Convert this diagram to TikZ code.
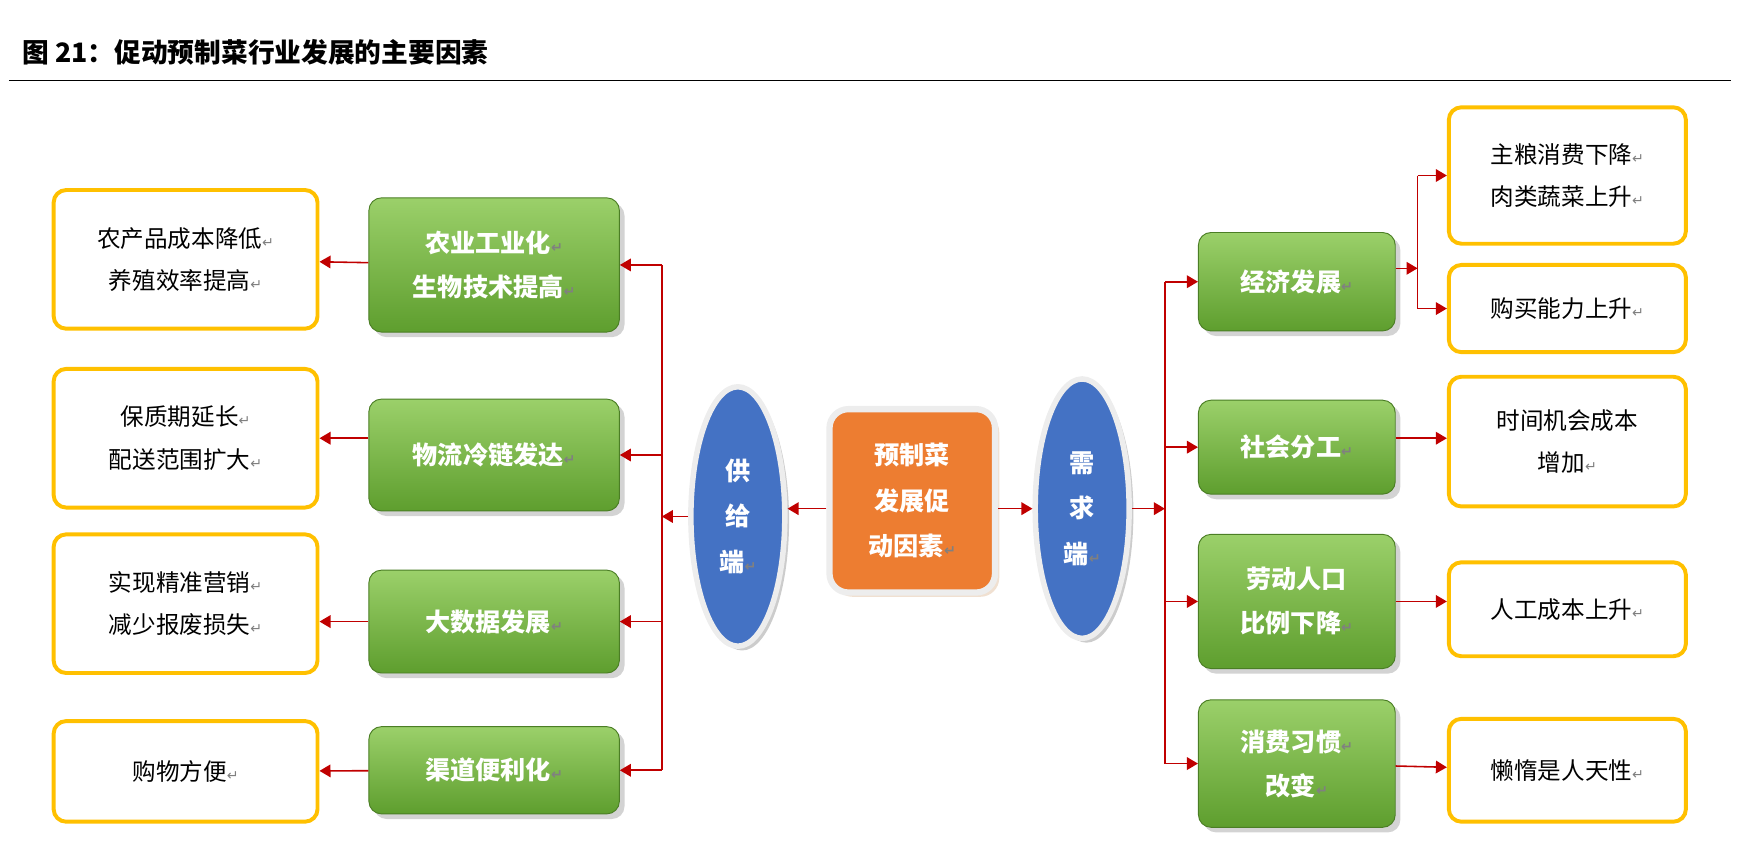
\documentclass[tikz,border=0pt]{standalone}
\usepackage{fontspec}
\setmainfont{Noto Sans CJK SC}
\newfontfamily\retfont{DejaVu Sans}
\usetikzlibrary{shadows,arrows.meta,shapes.geometric,positioning}
\definecolor{boxorange}{HTML}{FFC000}
\definecolor{centerorange}{HTML}{ED7D31}
\definecolor{sideblue}{HTML}{4472C4}
\definecolor{greentop}{HTML}{9BD06A}
\definecolor{greenbot}{HTML}{5E9E2E}
\definecolor{linkred}{HTML}{C00000}
\newcommand{\ret}{{\retfont\color{gray}\small ↵}}
\begin{document}
\begin{tikzpicture}[
        x=0.025cm, y=-0.025cm,
        factor/.style={draw=boxorange, line width=2.5pt, rounded corners=8pt, fill=white, align=center, font=\fontsize{15}{27}\selectfont},
        driver/.style={draw=greenbot!80!black, line width=0.6pt, rounded corners=8pt, top color=greentop, bottom color=greenbot, text=white, align=center, font=\fontsize{16}{28}\selectfont\bfseries, drop shadow={shadow xshift=0.6ex, shadow yshift=-0.6ex, opacity=0.35}},
        side/.style={ellipse, draw=white!93!black, line width=3.5pt, fill=sideblue, text=white, align=center, minimum width=2.1cm, minimum height=5.8cm, inner sep=0pt, font=\fontsize{16}{29}\selectfont\bfseries, drop shadow={shadow xshift=0.5ex, shadow yshift=-0.5ex, opacity=0.4}},
        link/.style={draw=linkred, line width=1pt, -{Triangle[length=7pt,width=8pt]}},
        plain/.style={draw=linkred, line width=1pt}
    ]
        \useasboundingbox (0,0) rectangle (1560,760);

        % Title
        \node[anchor=west, font=\fontsize{17}{20}\selectfont\bfseries] (title) at (15,47) {图 21：促动预制菜行业发展的主要因素};
        \draw[line width=0.8pt] (8,72) -- (1548,72);

        % Centre and the two sides
        \node[draw=white!93!black, line width=4pt, rounded corners=12pt, fill=centerorange, text=white, minimum width=3.7cm, minimum height=4.1cm, align=center, font=\fontsize{16}{29}\selectfont\bfseries, drop shadow={shadow xshift=0.5ex, shadow yshift=-0.5ex, opacity=0.4, fill=brown!60}] (core) at (816,448) {预制菜\\发展促\\动因素\ret};
        \node[side] (supply) at (660,462) {供\\给\\端\ret};
        \node[side] (demand) at (968,455) {需\\求\\端\ret};

        % Supply drivers
        \node[driver, minimum width=5.6cm, minimum height=3.0cm] (agri) at (442,237) {农业工业化\ret\\生物技术提高\ret};
        \node[driver, minimum width=5.6cm, minimum height=2.5cm] (cold) at (442,407) {物流冷链发达\ret};
        \node[driver, minimum width=5.6cm, minimum height=2.3cm] (data) at (442,556) {大数据发展\ret};
        \node[driver, minimum width=5.6cm, minimum height=1.95cm] (chan) at (442,689) {渠道便利化\ret};

        % Supply effects
        \node[factor, minimum width=5.9cm, minimum height=3.1cm] (cost) at (166,232) {农产品成本降低\ret\\养殖效率提高\ret};
        \node[factor, minimum width=5.9cm, minimum height=3.1cm] (shelf) at (166,392) {保质期延长\ret\\配送范围扩大\ret};
        \node[factor, minimum width=5.9cm, minimum height=3.1cm] (market) at (166,540) {实现精准营销\ret\\减少报废损失\ret};
        \node[factor, minimum width=5.9cm, minimum height=2.25cm] (shop) at (166,690) {购物方便\ret};

        % Demand drivers
        \node[driver, minimum width=4.4cm, minimum height=2.2cm] (econ) at (1160,252) {经济发展\ret};
        \node[driver, minimum width=4.4cm, minimum height=2.1cm] (labour) at (1160,400) {社会分工\ret};
        \node[driver, minimum width=4.4cm, minimum height=3.0cm] (work) at (1160,538) {劳动人口\\比例下降\ret};
        \node[driver, minimum width=4.4cm, minimum height=2.85cm] (habit) at (1160,683) {消费习惯\ret\\改变\ret};

        % Demand effects
        \node[factor, minimum width=5.3cm, minimum height=3.05cm] (grain) at (1402,157) {主粮消费下降\ret\\肉类蔬菜上升\ret};
        \node[factor, minimum width=5.3cm, minimum height=1.95cm] (power) at (1402,276) {购买能力上升\ret};
        \node[factor, minimum width=5.3cm, minimum height=2.9cm] (time) at (1402,395) {时间机会成本\\增加\ret};
        \node[factor, minimum width=5.3cm, minimum height=2.1cm] (wage) at (1402,545) {人工成本上升\ret};
        \node[factor, minimum width=5.3cm, minimum height=2.3cm] (lazy) at (1402,689) {懒惰是人天性\ret};

        % Junction points
        \coordinate (sbus) at (592,462);
        \coordinate (dbus) at (1042,455);
        \coordinate (ebus) at (1268,240);

        % Centre links
        \draw[link] (core.west |- 0,455) -- (supply.east |- 0,455);
        \draw[link] (core.east |- 0,455) -- (demand.west |- 0,455);
        \draw[link] (supply.west) -- (sbus);
        \draw[link] (demand.east) -- (dbus);

        % Supply tree
        \draw[plain] (sbus |- agri) -- (sbus |- chan);
        \foreach \d in {agri,cold,data,chan}
            \draw[link] (sbus |- \d) -- (\d.east);
        \draw[link] (agri) -- (cost);
        \draw[link] (cold.west |- shelf) -- (shelf.east);
        \draw[link] (data.west) -- (market.east |- data);
        \draw[link] (chan) -- (shop);

        % Demand tree
        \draw[plain] (dbus |- econ) -- (dbus |- habit);
        \foreach \d in {econ,labour,work,habit}
            \draw[link] (dbus |- \d) -- (\d.west);
        \draw[link] (econ.east |- ebus) -- (ebus);
        \draw[plain] (ebus |- grain) -- (ebus |- power);
        \draw[link] (ebus |- grain) -- (grain.west);
        \draw[link] (ebus |- power) -- (power.west);
        \draw[link] (labour.east |- 0,392) -- (time.west |- 0,392);
        \draw[link] (work.east) -- (wage.west |- work);
        \draw[link] (habit) -- (lazy);
    \end{tikzpicture}
\end{document}
